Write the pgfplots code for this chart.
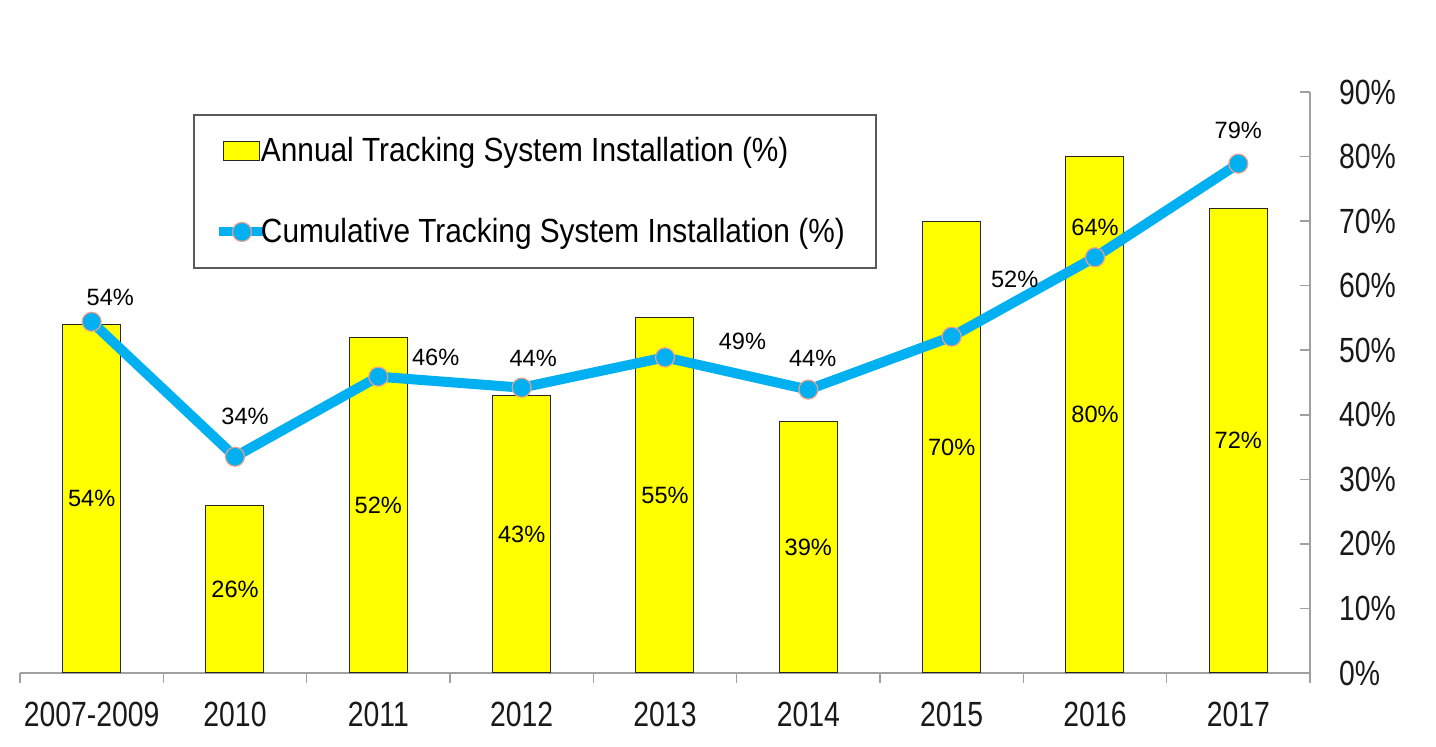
\documentclass[border=0pt]{standalone}
\usepackage{pgfplots}
\pgfplotsset{compat=1.18}
\usepackage{fontspec}
\setmainfont{Liberation Sans}
\newfontfamily\tickfont[FakeStretch=0.81]{Liberation Sans}
\newfontfamily\legfont[FakeStretch=0.89]{Liberation Sans}
\definecolor{barY}{RGB}{255,255,0}
\definecolor{lineB}{RGB}{0,176,240}
\definecolor{mEdge}{RGB}{235,160,140}
\definecolor{axG}{RGB}{160,160,160}
\pgfplotsset{
  barlegend/.style={legend image code/.code={\draw[##1] (2pt,-4.75pt) rectangle (20pt,4.75pt);}},
  linelegend/.style={legend image code/.code={\draw[##1, line width=4.5pt, mark repeat=2, mark phase=2] plot coordinates {(0pt,0pt) (11.25pt,0pt) (22.5pt,0pt)};}},
}
\begin{document}
\begin{tikzpicture}
\begin{axis}[
  scale only axis, width=645pt, height=290.5pt,
  xmin=-0.5, xmax=8.5, ymin=0, ymax=90,
  axis x line*=bottom, axis y line*=right,
  axis line style={draw=axG, line width=0.8pt},
  xtick={0,...,8},
  xticklabels={2007-2009,2010,2011,2012,2013,2014,2015,2016,2017},
  major x tick style={draw=none},
  minor xtick={-0.5,0.5,...,8.5},
  minor x tick style={draw=axG, line width=0.8pt},
  minor tick length=5pt, major tick length=5pt,
  tick align=outside,
  ytick={0,10,...,90},
  yticklabels={0\%,10\%,20\%,30\%,40\%,50\%,60\%,70\%,80\%,90\%},
  y tick style={draw=axG, line width=0.8pt, xshift=-5pt},
  ticklabel style={font=\tickfont\fontsize{17.5}{19}\selectfont, text=black!90},
  xticklabel style={yshift=-6pt},
  yticklabel style={xshift=6pt},
  clip=false,
  legend style={at={(0.1341,0.9621)}, anchor=north west, draw=black!65, line width=1pt,
    inner xsep=10.5pt, inner ysep=11pt, row sep=27pt,
    nodes={inner sep=0pt},
    font=\legfont\fontsize{16.75}{18}\selectfont, cells={anchor=west},
    /tikz/every odd column/.style={column sep=-4pt}},
  legend cell align=left,
]
\coordinate (O) at (rel axis cs:0,0);
\addplot[ybar, bar width=29pt, fill=barY, draw=black!85, line width=0.5pt, barlegend]
  coordinates {(0,54) (1,26) (2,52) (3,43) (4,55) (5,39) (6,70) (7,80) (8,72)};
\addlegendentry{Annual Tracking System Installation (\%)}
\addplot[color=lineB, line width=5pt, mark=*, mark size=4.75pt,
  mark options={fill=lineB, draw=mEdge, line width=0.6pt}, linelegend]
  coordinates {(0,54.4) (1,33.5) (2,45.9) (3,44.2) (4,48.9) (5,43.9) (6,52.1) (7,64.4) (8,78.9)};
\addlegendentry{Cumulative Tracking System Installation (\%)\hspace*{5pt}}
\begin{scope}[every node/.style={font=\fontsize{11.8}{14}\selectfont, text=black}]
\node at (axis cs:0,27) {54\%};
\node at (axis cs:1,13) {26\%};
\node at (axis cs:2,26) {52\%};
\node at (axis cs:3,21.5) {43\%};
\node at (axis cs:4,27.5) {55\%};
\node at (axis cs:5,19.5) {39\%};
\node at (axis cs:6,35) {70\%};
\node at (axis cs:7,40) {80\%};
\node at (axis cs:8,36) {72\%};
\node at (axis cs:0.13,58.2) {54\%};
\node at (axis cs:1.07,39.7) {34\%};
\node at (axis cs:2.40,48.9) {46\%};
\node at (axis cs:3.08,48.8) {44\%};
\node at (axis cs:4.54,51.3) {49\%};
\node at (axis cs:5.03,48.8) {44\%};
\node at (axis cs:6.44,60.9) {52\%};
\node at (axis cs:7.0,69.1) {64\%};
\node at (axis cs:8.0,84.1) {79\%};
\end{scope}
\end{axis}
\pgfresetboundingbox
\path (O) ++(-10pt,-37pt) rectangle ++(718pt,373.5pt);
\end{tikzpicture}
\end{document}
